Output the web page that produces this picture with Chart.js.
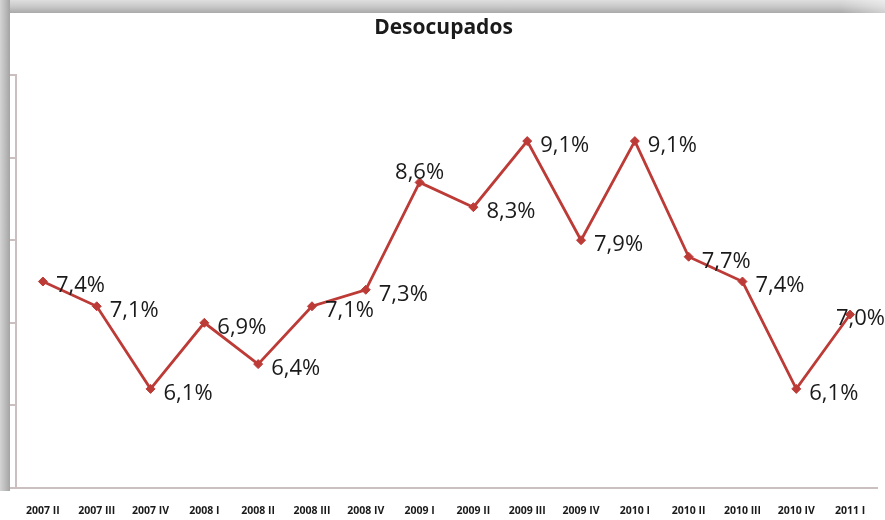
<!DOCTYPE html>
<html>
<head>
<meta charset="utf-8">
<script src="https://cdn.jsdelivr.net/npm/chart.js@4/dist/chart.umd.min.js"></script>
<style>
  html, body { margin: 0; padding: 0; background: #ffffff; width: 885px; height: 520px; overflow: hidden; }
  #wrap { position: relative; width: 885px; height: 520px; }
  #shTop { position: absolute; left: 0; top: 0; width: 885px; height: 13px;
           background: linear-gradient(to bottom, #dedede 0%, #c9c9c9 50%, #a9a9a9 100%); }
  #shTopFade { position: absolute; left: 840px; top: 0; width: 45px; height: 13px;
           background: linear-gradient(to right, rgba(255,255,255,0) 0%, rgba(255,255,255,0.45) 100%); }
  #shLeft { position: absolute; left: 0; top: 0; width: 10px; height: 491px;
           background: linear-gradient(to right, #d4d4d4 0%, #bdbdbd 50%, #a3a3a3 100%); }
  canvas { position: absolute; left: 0; top: 0; }
</style>
</head>
<body>
<div id="wrap">
  <div id="shTop"></div>
  <div id="shTopFade"></div>
  <div id="shLeft"></div>
  <canvas id="c" width="885" height="520"></canvas>
</div>
<script>
const categories = ['2007 II', '2007 III', '2007 IV', '2008 I', '2008 II', '2008 III', '2008 IV',
                    '2009 I', '2009 II', '2009 III', '2009 IV', '2010 I', '2010 II', '2010 III',
                    '2010 IV', '2011 I'];
const desocupados = [7.4, 7.1, 6.1, 6.9, 6.4, 7.1, 7.3, 8.6, 8.3, 9.1, 7.9, 9.1, 7.7, 7.4, 6.1, 7.0];
const chartTitle = 'Desocupados';

function fmt(v) { return v.toFixed(1).replace('.', ',') + '%'; }

const LINE = '#bd3b37';
const AXIS = '#cbbfbf';

const labelPlugin = {
  id: 'pointLabels',
  afterDatasetsDraw(chart) {
    const ctx = chart.ctx;
    const meta = chart.getDatasetMeta(0);
    const ds = chart.data.datasets[0].data;
    const fs = 22;
    ctx.save();
    ctx.font = '400 ' + fs + 'px "Open Sans"';
    ctx.fillStyle = '#1a1a1a';
    ctx.textBaseline = 'alphabetic';
    const capHalf = 0.714 * fs / 2;
    meta.data.forEach((pt, i) => {
      const txt = fmt(ds[i]);
      const w = ctx.measureText(txt).width;
      let x, y;
      if (i === 7) {
        x = pt.x - w / 2;
        y = pt.y - 11 + capHalf;
      } else {
        x = Math.min(pt.x + 13, chart.width - w);
        y = pt.y + 3 + capHalf;
      }
      ctx.textAlign = 'left';
      ctx.fillText(txt, x, y);
    });
    ctx.restore();
  }
};

new Chart(document.getElementById('c'), {
  type: 'line',
  data: {
    labels: categories,
    datasets: [{
      data: desocupados,
      borderColor: LINE,
      backgroundColor: LINE,
      borderWidth: 2.8,
      pointStyle: 'rectRot',
      pointRadius: 4.5,
      pointBorderWidth: 1,
      pointBackgroundColor: LINE,
      pointBorderColor: LINE,
      tension: 0,
      clip: false
    }]
  },
  options: {
    responsive: false,
    devicePixelRatio: 1,
    animation: false,
    layout: { padding: { left: 10, right: 8, top: 0, bottom: 0 } },
    plugins: {
      legend: { display: false },
      tooltip: { enabled: false },
      title: {
        display: true,
        text: chartTitle,
        color: '#1a1a1a',
        font: { family: '"Open Sans"', size: 21, weight: '700', lineHeight: 1.2 },
        padding: { top: 15, bottom: 34.8 }
      }
    },
    scales: {
      x: {
        type: 'category',
        offset: true,
        grid: { display: false, drawTicks: false },
        border: { display: true, color: AXIS, width: 2 },
        ticks: {
          autoSkip: false, maxRotation: 0, minRotation: 0,
          padding: 17,
          color: '#1a1a1a',
          font: { family: '"Open Sans"', size: 10.5, weight: '700' }
        },
        afterFit(scale) { scale.height = 32; }
      },
      y: {
        min: 4.9,
        max: 9.9,
        grid: { display: true, drawOnChartArea: false, drawTicks: true, tickLength: 6, color: AXIS, lineWidth: 2 },
        border: { display: true, color: AXIS, width: 2 },
        ticks: { display: false },
        afterBuildTicks(scale) {
          const t = [];
          for (let v = scale.min; v <= scale.max + 1e-9; v += 1) t.push({ value: v });
          scale.ticks = t;
        },
        afterFit(scale) { scale.width = 6; }
      }
    }
  },
  plugins: [labelPlugin]
});
</script>
</body>
</html>
